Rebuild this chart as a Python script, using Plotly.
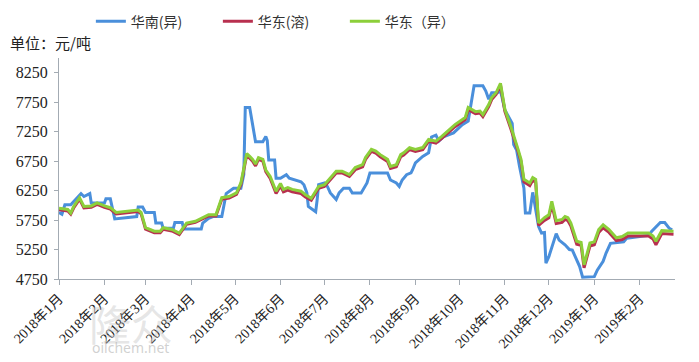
import plotly.graph_objects as go

# ---------------- data ----------------
south_dates = ["2018-01-01","2018-01-03","2018-01-05","2018-01-09","2018-01-16","2018-01-18","2018-01-22","2018-01-23",
"2018-02-01","2018-02-02","2018-02-05","2018-02-08","2018-02-23","2018-02-24","2018-02-27","2018-03-01","2018-03-07",
"2018-03-08","2018-03-12","2018-03-13","2018-03-20","2018-03-21","2018-03-26","2018-03-27","2018-04-08","2018-04-09",
"2018-04-13","2018-04-16","2018-04-22","2018-04-25","2018-04-30","2018-05-05","2018-05-07","2018-05-08","2018-05-11",
"2018-05-13","2018-05-15","2018-05-20","2018-05-22","2018-05-23","2018-05-24","2018-05-28","2018-05-29","2018-06-01",
"2018-06-05","2018-06-07","2018-06-11","2018-06-15","2018-06-17","2018-06-19","2018-06-20","2018-06-25","2018-06-26",
"2018-06-27","2018-07-01","2018-07-03","2018-07-05","2018-07-09","2018-07-11","2018-07-14","2018-07-18","2018-07-20",
"2018-07-26","2018-07-28","2018-07-30","2018-08-01","2018-08-13","2018-08-15","2018-08-19","2018-08-21","2018-08-23",
"2018-08-26","2018-08-29","2018-08-30","2018-09-01","2018-09-06","2018-09-10","2018-09-12","2018-09-15","2018-09-17",
"2018-09-20","2018-09-27","2018-10-01","2018-10-03","2018-10-07","2018-10-09","2018-10-11","2018-10-17","2018-10-19",
"2018-10-21","2018-10-23","2018-10-27","2018-10-29","2018-11-01","2018-11-06","2018-11-07","2018-11-09","2018-11-11",
"2018-11-14","2018-11-15","2018-11-18","2018-11-20","2018-11-21","2018-11-24","2018-11-26","2018-11-28","2018-11-29",
"2018-12-01","2018-12-06","2018-12-08","2018-12-12","2018-12-15","2018-12-17","2018-12-20","2018-12-22","2018-12-24",
"2019-01-01","2019-01-03","2019-01-07","2019-01-09","2019-01-10","2019-01-12","2019-01-21","2019-01-23","2019-02-07",
"2019-02-09","2019-02-15","2019-02-18","2019-02-21","2019-02-23"]
south_values = [5880,5850,6010,6010,6200,6150,6200,6040,
6040,6110,6110,5770,5810,5970,5970,5880,5880,
5700,5700,5610,5610,5710,5710,5600,5600,5700,
5780,5810,5810,6200,6290,6290,6520,7660,7660,
7370,7080,7080,7170,7100,6770,6770,6460,6460,
6520,6460,6430,6400,6350,6210,5980,5890,6090,
6350,6380,6320,6210,6100,6210,6290,6290,6210,
6210,6290,6380,6550,6550,6430,6380,6320,6430,
6520,6550,6600,6720,6830,6890,7160,7190,7090,
7160,7230,7320,7370,7430,7740,8030,8030,7940,
7800,7910,7910,7950,7620,7390,7030,6940,6660,
6290,5870,5870,6220,6090,5640,5530,5540,5020,
5130,5520,5410,5330,5250,5240,5080,4960,4780,
4790,4900,5050,5190,5240,5356,5380,5440,5490,
5555,5708,5708,5612,5583]

east_dates = ["2018-01-01","2018-01-07","2018-01-09","2018-01-11","2018-01-15","2018-01-18","2018-01-23","2018-01-27",
"2018-02-01","2018-02-05","2018-02-09","2018-02-24","2018-02-26","2018-03-01","2018-03-07","2018-03-11","2018-03-13",
"2018-03-19","2018-03-24","2018-03-26","2018-03-29","2018-04-04","2018-04-09","2018-04-13","2018-04-18","2018-04-20",
"2018-04-22","2018-04-27","2018-05-02","2018-05-05","2018-05-09","2018-05-11","2018-05-13","2018-05-15","2018-05-17",
"2018-05-20","2018-05-22","2018-05-25","2018-05-29","2018-06-01","2018-06-03","2018-06-06","2018-06-09","2018-06-15",
"2018-06-18","2018-06-22","2018-06-27","2018-07-01","2018-07-04","2018-07-09","2018-07-13","2018-07-18","2018-07-22",
"2018-07-27","2018-07-29","2018-08-02","2018-08-05","2018-08-08","2018-08-13","2018-08-15","2018-08-19","2018-08-22",
"2018-08-24","2018-08-28","2018-09-01","2018-09-06","2018-09-10","2018-09-15","2018-09-19","2018-09-23","2018-09-28",
"2018-10-05","2018-10-07","2018-10-12","2018-10-15","2018-10-17","2018-10-21","2018-10-23","2018-10-26","2018-10-29",
"2018-11-01","2018-11-05","2018-11-08","2018-11-10","2018-11-12","2018-11-14","2018-11-18","2018-11-20","2018-11-22",
"2018-11-24","2018-11-28","2018-12-01","2018-12-03","2018-12-06","2018-12-10","2018-12-12","2018-12-14","2018-12-16",
"2018-12-20","2018-12-23","2018-12-25","2018-12-29","2019-01-01","2019-01-04","2019-01-07","2019-01-11","2019-01-16",
"2019-01-20","2019-01-24","2019-02-07","2019-02-10","2019-02-12","2019-02-16","2019-02-24"]
east_iso_values = [5950,5930,5870,5980,6130,5980,5990,6040,
5990,5960,5880,5920,5880,5620,5560,5560,5620,
5590,5530,5600,5700,5730,5790,5840,5840,5980,
6130,6150,6210,6380,6880,6830,6780,6700,6810,
6780,6600,6490,6240,6370,6270,6300,6270,6240,
6180,6120,6320,6350,6440,6580,6580,6520,6640,
6690,6810,6950,6920,6860,6780,6660,6690,6860,
6890,6980,6950,6980,7120,7090,7170,7260,7370,
7490,7660,7590,7600,7540,7710,7830,7910,8070,
7630,7340,7120,6950,6780,6440,6380,6470,6440,
5700,5790,5840,6070,5740,5760,5810,5790,5700,
5390,5370,4990,5360,5380,5590,5670,5590,5450,
5470,5530,5530,5480,5390,5570,5560]
east_sol_values = [5925,5905,5850,5955,6105,5955,5965,6015,
5965,5935,5855,5895,5855,5595,5535,5535,5595,
5565,5505,5575,5680,5710,5770,5820,5820,5955,
6105,6125,6185,6350,6850,6800,6750,6670,6780,
6750,6570,6455,6200,6330,6230,6260,6230,6200,
6140,6085,6290,6320,6405,6550,6550,6490,6605,
6655,6780,6915,6885,6825,6745,6625,6655,6825,
6855,6945,6915,6945,7085,7055,7135,7225,7335,
7455,7625,7555,7565,7505,7675,7795,7880,8040,
7595,7305,7085,6915,6745,6400,6335,6425,6395,
5660,5745,5790,6020,5690,5710,5760,5740,5650,
5340,5320,4940,5310,5330,5540,5620,5540,5400,
5420,5480,5480,5430,5330,5520,5510]

month_ticks = ["2018-01-01","2018-02-01","2018-03-01","2018-04-01","2018-05-01","2018-06-01","2018-07-01",
               "2018-08-01","2018-09-01","2018-10-01","2018-11-01","2018-12-01","2019-01-01","2019-02-01"]
month_labels = ["2018年1月","2018年2月","2018年3月","2018年4月","2018年5月","2018年6月","2018年7月",
                "2018年8月","2018年9月","2018年10月","2018年11月","2018年12月","2019年1月","2019年2月"]
y_ticks = [4750, 5250, 5750, 6250, 6750, 7250, 7750, 8250]

series_names = ["华南(异)", "华东(溶)", "华东（异）"]
colors = ["#4a8fdb", "#b8304f", "#8ccf3a"]

# ---------------- figure ----------------
fig = go.Figure()
fig.add_trace(go.Scatter(x=south_dates, y=south_values, mode="lines", name=series_names[0],
                         line=dict(color=colors[0], width=3)))
fig.add_trace(go.Scatter(x=east_dates, y=east_sol_values, mode="lines", name=series_names[1],
                         line=dict(color=colors[1], width=3)))
fig.add_trace(go.Scatter(x=east_dates, y=east_iso_values, mode="lines", name=series_names[2],
                         line=dict(color=colors[2], width=3)))

font_main = "Liberation Serif, Noto Sans CJK SC, serif"
axis_col = "#a3abb3"

fig.update_layout(
    template="none",
    width=699, height=362,
    margin=dict(l=59, r=24, t=58, b=83),
    paper_bgcolor="white", plot_bgcolor="white",
    showlegend=True,
    legend=dict(orientation="h", xref="container", yref="container",
                x=0.130, xanchor="left", y=0.94, yanchor="middle",
                font=dict(family="Noto Sans CJK SC", size=14, color="#333333"),
                entrywidth=82, entrywidthmode="pixels", itemwidth=30,
                bgcolor="rgba(0,0,0,0)"),
    xaxis=dict(type="date", range=["2018-01-01", "2019-02-25"], automargin=False,
               tickvals=month_ticks, ticktext=month_labels, tickangle=-45,
               showgrid=False, zeroline=False, showline=True, linecolor=axis_col, linewidth=1,
               ticks="outside", ticklen=5, tickcolor=axis_col,
               tickfont=dict(family=font_main, size=14, color="#222222")),
    yaxis=dict(range=[4750, 8500], tickvals=y_ticks, automargin=False,
               showgrid=False, zeroline=False, showline=True, linecolor=axis_col, linewidth=1,
               ticks="outside", ticklen=4, tickcolor=axis_col, ticklabelstandoff=3,
               tickfont=dict(family=font_main, size=16, color="#222222")),
    annotations=[
        dict(text="单位：元/吨", xref="paper", yref="paper", x=-0.083, y=(279.3 - 43) / 221,
             xanchor="left", yanchor="middle", showarrow=False,
             font=dict(family="Noto Sans CJK SC", size=15, color="#222222")),
        dict(text="隆众", xref="paper", yref="paper", x=0.045, y=-0.195,
             xanchor="left", yanchor="middle", showarrow=False,
             font=dict(family="Noto Sans CJK SC", size=42, color="rgba(190,190,190,0.4)")),
        dict(text="oilchem.net", xref="paper", yref="paper", x=0.05, y=-0.31,
             xanchor="left", yanchor="middle", showarrow=False,
             font=dict(family="Noto Sans", size=14, color="rgba(170,170,170,0.55)")),
    ],
)

fig.write_html("out.html",
               config={"displayModeBar": False},
               post_script="document.body.style.margin='0';document.body.style.overflow='hidden';")
